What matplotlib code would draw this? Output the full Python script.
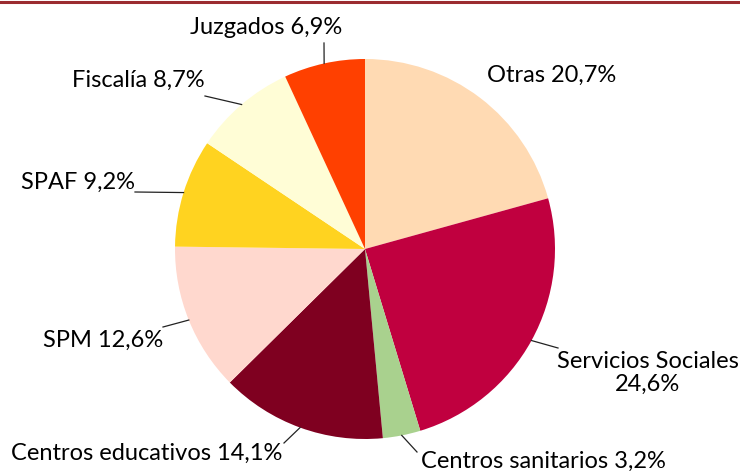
import numpy as np
import matplotlib.pyplot as plt
from matplotlib.lines import Line2D

# datos del grafico
labels = ["Otras", "Servicios Sociales", "Centros sanitarios", "Centros educativos",
          "SPM", "SPAF", "Fiscalía", "Juzgados"]
values = [20.7, 24.6, 3.2, 14.1, 12.6, 9.2, 8.7, 6.9]
colors = ["#FFDAB3", "#C0003F", "#A9D18E", "#7F0020",
          "#FFD8CE", "#FFD320", "#FFFDD6", "#FF4000"]

# posiciones de etiquetas (pixeles, y desde arriba) y fin de linea guia
text_pos = [(552, 75), (648, 373), (543, 461), (147, 453),
            (103, 340), (78, 182), (138, 80), (266, 28)]
line_end = [None, (558, 348), (417, 452), (284, 443),
            (163, 327), (135, 192), (205, 96), (324, 43)]

W, H = 740, 471
cx, cy, r = 365, 249, 190

plt.rcParams['font.family'] = ['Lato', 'DejaVu Sans']

fig = plt.figure(figsize=(W / 100, H / 100), dpi=100)
ax = fig.add_axes([0, 0, 1, 1])

wedges, _ = ax.pie(values, colors=colors, startangle=90, counterclock=False,
                   center=(cx, H - cy), radius=r, frame=True)
ax.set_xlim(0, W)
ax.set_ylim(0, H)
ax.set_aspect('equal')
ax.axis('off')

total = sum(values)
cum = 0
for i, v in enumerate(values):
    mid = (cum + v / 2) / total * 2 * np.pi
    cum += v
    pct = ("%.1f" % v).replace(".", ",") + "%"
    txt = labels[i] + " " + pct
    if labels[i] == "Servicios Sociales":
        txt = labels[i] + "\n" + pct
    tx, ty = text_pos[i]
    ax.text(tx, H - ty, txt, ha='center', va='center', fontsize=17,
            color='black', linespacing=1.1)
    if line_end[i] is not None:
        x0 = cx + r * np.sin(mid)
        y0 = cy - r * np.cos(mid)
        x1, y1 = line_end[i]
        ax.plot([x0, x1], [H - y0, H - y1], color='#222222', lw=0.9)

fig.add_artist(Line2D([0, 1], [1 - 1.5 / H, 1 - 1.5 / H], transform=fig.transFigure,
                      color='#9B2B30', lw=2.2))

plt.savefig("out.png", dpi=100)
